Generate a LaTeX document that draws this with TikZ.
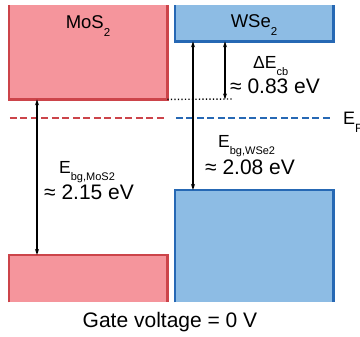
\documentclass[tikz,border=0pt]{standalone}
\usepackage{fontspec}
\setmainfont{Liberation Sans}
\usetikzlibrary{arrows.meta}

\definecolor{mosfill}{RGB}{245,149,156}
\definecolor{mosline}{RGB}{204,68,74}
\definecolor{wsefill}{RGB}{141,188,228}
\definecolor{wseline}{RGB}{38,104,180}

\newcommand{\lowsub}[2][11]{\raisebox{-0.4em}{\fontsize{#1}{#1}\selectfont #2}}

\begin{document}
\begin{tikzpicture}[x=1pt, y=-1pt,
        band/.style={rectangle, inner sep=0pt, minimum width=158pt, anchor=north west},
        edge/.style={line width=2.4pt},
        gap/.style={{Stealth[length=6pt,width=4pt]}-{Stealth[length=6pt,width=4pt]}, line width=1.3pt},
        fermi/.style={line width=1.2pt, dash pattern=on 7pt off 3.5pt},
        boxlabel/.style={inner sep=0pt, font=\fontsize{18.5}{20}\selectfont, anchor=base},
        namelabel/.style={inner sep=0pt, font=\fontsize{17.5}{20}\selectfont, anchor=base west},
        valuelabel/.style={inner sep=0pt, font=\fontsize{21}{24}\selectfont, anchor=base west},
    ]
        \useasboundingbox (0,0) rectangle (360,337);

        % bands
        \node[band, fill=mosfill, minimum height=94pt] (mosCB) at (9,5) {};
        \node[band, fill=mosfill, minimum height=47pt] (mosVB) at (9,255) {};
        \node[band, fill=wsefill, minimum height=36pt] (wseCB) at (175,5) {};
        \node[band, fill=wsefill, minimum height=112pt] (wseVB) at (175,190) {};
        \draw[edge, mosline] (mosCB.north west) -- (mosCB.south west) -- (mosCB.south east) -- (mosCB.north east);
        \draw[edge, mosline] (mosVB.south west) -- (mosVB.north west) -- (mosVB.north east) -- (mosVB.south east);
        \draw[edge, wseline] (wseCB.north west) -- (wseCB.south west) -- (wseCB.south east) -- (wseCB.north east);
        \draw[edge, wseline] (wseVB.south west) -- (wseVB.north west) -- (wseVB.north east) -- (wseVB.south east);

        \node[boxlabel] (mosname) at (88,29) {MoS\lowsub[11.5]{2}};
        \node[boxlabel] (wsename) at (254,28) {WSe\lowsub[11.5]{2}};

        % Fermi level and band offset
        \coordinate (fermi) at (0,118);
        \coordinate (dotend) at (232,99);
        \draw[fermi, mosline] ([xshift=1pt]mosCB.south west |- fermi) -- ([xshift=-1pt]mosCB.south east |- fermi);
        \draw[fermi, wseline] ([xshift=1pt]wseCB.south west |- fermi) -- ([xshift=-1pt]wseCB.south east |- fermi);
        \draw[line width=1.4pt, dash pattern=on 1.3pt off 2.2pt] (mosCB.south east) -- (dotend);
        \node[inner sep=0pt, font=\fontsize{18}{20}\selectfont, anchor=base west] (fermilabel) at (343,125) {E\lowsub[12]{F}};

        % gaps
        \draw[gap] ([xshift=28pt]mosCB.south west) -- ([xshift=28pt]mosVB.north west);
        \draw[gap] ([xshift=18pt]wseCB.south west) -- ([xshift=18pt]wseVB.north west);
        \draw[gap] ([xshift=50pt]wseCB.south west) -- ([xshift=50pt]wseCB.south west |- mosCB.south);

        \node[namelabel] (mosgap) at (59,174) {E\lowsub{bg,MoS2}};
        \node[valuelabel] (mosval) at (44,200) {≈ 2.15 eV};
        \node[namelabel] (wsegap) at (218,148) {E\lowsub{bg,WSe2}};
        \node[valuelabel] (wseval) at (205,175) {≈ 2.08 eV};
        \node[namelabel] (cbname) at (253,69) {ΔE\lowsub{cb}};
        \node[valuelabel] (cbval) at (230,94) {≈ 0.83 eV};

        \node[valuelabel, anchor=base] (gate) at (170,328) {Gate voltage = 0 V};
    \end{tikzpicture}
\end{document}
